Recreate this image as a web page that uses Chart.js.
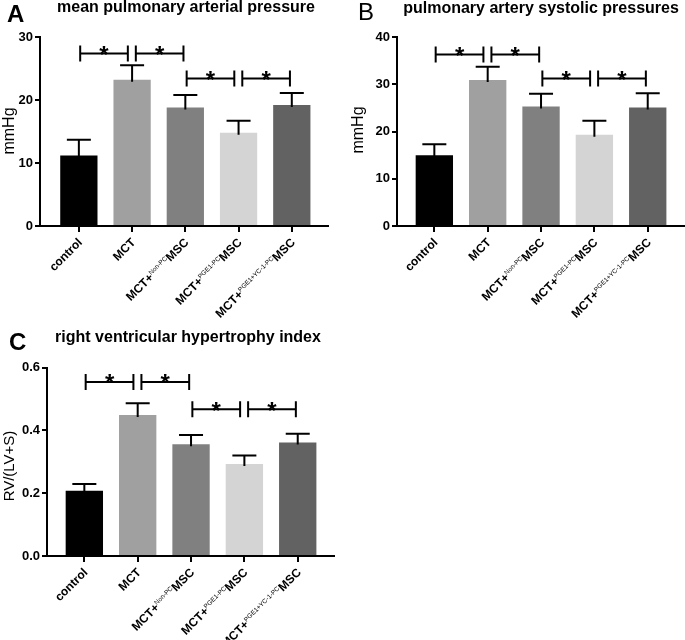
<!DOCTYPE html>
<html><head><meta charset="utf-8">
<script src="https://cdn.jsdelivr.net/npm/chart.js@4/dist/chart.umd.min.js"></script>
<style>
html,body{margin:0;padding:0;background:#fff;}
#wrap{position:relative;width:685px;height:640px;overflow:hidden;}
.p{position:absolute;}
canvas{display:block;}
</style></head><body>
<div id="wrap">
<div class="p" style="left:0;top:0;"><canvas id="cA" width="340" height="320"></canvas></div>
<div class="p" style="left:340px;top:0;"><canvas id="cB" width="345" height="320"></canvas></div>
<div class="p" style="left:0;top:320px;"><canvas id="cC" width="345" height="320"></canvas></div>
</div>
<script>
// ---- data ----
const groupMain = ['control', 'MCT', 'MCT+', 'MCT+', 'MCT+'];
const groupSup  = ['', '', 'Non-PC', 'PGE1-PC', 'PGE1+YC-1-PC'];
const groupTail = ['', '', 'MSC', 'MSC', 'MSC'];
const barColors = ['#000000', '#a0a0a0', '#808080', '#d4d4d4', '#626262'];

const mpapMean = [11.2, 23.2, 18.8, 14.8, 19.2];
const mpapSem  = [2.5, 2.3, 2.0, 1.9, 1.9];
const mpapTicks = [0, 10, 20, 30];

const paspMean = [15.0, 30.9, 25.3, 19.3, 25.1];
const paspSem  = [2.3, 2.8, 2.7, 3.0, 3.0];
const paspTicks = [0, 10, 20, 30, 40];

const rvhiMean = [0.208, 0.449, 0.356, 0.293, 0.361];
const rvhiSem  = [0.021, 0.037, 0.029, 0.027, 0.028];
const rvhiTicks = [0.0, 0.2, 0.4, 0.6];

const sigPairs = [[0, 1], [1, 2], [2, 3], [3, 4]];
const mpapSigY = [27.4, 27.4, 23.4, 23.4];
const paspSigY = [36.3, 36.3, 31.2, 31.2];
const rvhiSigY = [0.554, 0.554, 0.467, 0.467];

const FONT = '"Liberation Sans", Arial, Helvetica, sans-serif';

function drawXLabel(ctx, x, y, main, sup, tail) {
  ctx.save();
  ctx.translate(x, y);
  ctx.rotate(-Math.PI / 4);
  const fMain = 'bold 12px ' + FONT;
  const fSup = '6.5px ' + FONT;
  ctx.font = fMain;
  const w1 = ctx.measureText(main).width;
  const w3 = tail ? ctx.measureText(tail).width : 0;
  ctx.font = fSup;
  const w2 = sup ? ctx.measureText(sup).width : 0;
  let cx = -(w1 + w2 + w3);
  ctx.textAlign = 'left';
  ctx.textBaseline = 'alphabetic';
  ctx.fillStyle = '#000';
  ctx.font = fMain; ctx.fillText(main, cx, 4.3); cx += w1;
  if (sup) { ctx.font = fSup; ctx.fillText(sup, cx, 0); cx += w2; }
  if (tail) { ctx.font = fMain; ctx.fillText(tail, cx, 4.3); }
  ctx.restore();
}

const decorPlugin = {
  id: 'decor',
  afterDatasetsDraw(chart) {
    const o = chart.options.plugins.decor;
    const ctx = chart.ctx;
    const xs = chart.scales.x, ys = chart.scales.y;
    ctx.save();
    ctx.strokeStyle = '#000';
    ctx.lineWidth = 2;
    ctx.lineCap = 'butt';
    // error bars (upper only)
    o.means.forEach((m, i) => {
      const x = xs.getPixelForValue(i);
      const y0 = ys.getPixelForValue(m);
      const y1 = ys.getPixelForValue(m + o.sem[i]);
      ctx.beginPath();
      ctx.moveTo(x, y0 + 2); ctx.lineTo(x, y1);
      ctx.moveTo(x - 12, y1); ctx.lineTo(x + 12, y1);
      ctx.stroke();
    });
    // significance brackets
    sigPairs.forEach((p, k) => {
      const yv = o.sigY[k];
      const shareNext = sigPairs.some((q, j) => j !== k && q[0] === p[1] && o.sigY[j] === yv);
      const sharePrev = sigPairs.some((q, j) => j !== k && q[1] === p[0] && o.sigY[j] === yv);
      const a = p[0] + (sharePrev ? 0.07 : 0.025);
      const b = p[1] - (shareNext ? 0.08 : 0.035);
      const xa = xs.getPixelForValue(a), xb = xs.getPixelForValue(b);
      const y = ys.getPixelForValue(yv);
      ctx.beginPath();
      ctx.moveTo(xa, y - 8); ctx.lineTo(xa, y + 8);
      ctx.moveTo(xb, y - 8); ctx.lineTo(xb, y + 8);
      ctx.moveTo(xa, y); ctx.lineTo(xb, y);
      ctx.stroke();
      ctx.fillStyle = '#000';
      ctx.font = 'bold 24px ' + FONT;
      ctx.textAlign = 'center';
      ctx.textBaseline = 'alphabetic';
      ctx.fillText('*', (xa + xb) / 2, y + 9.5);
    });
    // x labels
    const axisY = chart.chartArea.bottom;
    groupMain.forEach((g, i) => {
      drawXLabel(ctx, xs.getPixelForValue(i) + 1, axisY + 14, g, groupSup[i], groupTail[i]);
    });
    // panel letter, title, y title
    ctx.fillStyle = '#000';
    ctx.textAlign = 'left';
    ctx.textBaseline = 'alphabetic';
    ctx.font = o.letterFont + ' ' + FONT;
    ctx.fillText(o.letter, o.letterX, o.letterY);
    ctx.font = 'bold 16px ' + FONT;
    ctx.textAlign = 'center';
    ctx.fillText(o.title, o.titleX, o.titleY);
    ctx.save();
    ctx.translate(o.yTitleX, o.yTitleY);
    ctx.rotate(-Math.PI / 2);
    ctx.font = o.yTitleFont + ' ' + FONT;
    ctx.textAlign = 'center';
    ctx.fillText(o.yTitle, 0, 0);
    ctx.restore();
    ctx.restore();
  }
};

function makePanel(id, c) {
  return new Chart(document.getElementById(id), {
    type: 'bar',
    data: {
      datasets: [{
        data: c.means.map((v, i) => ({ x: i, y: v })),
        backgroundColor: barColors,
        borderWidth: 0,
        barPercentage: 0.7,
        categoryPercentage: 1.0
      }]
    },
    options: {
      responsive: false,
      animation: false,
      devicePixelRatio: 1,
      layout: { padding: { left: 0, right: c.padRight, top: c.padTop, bottom: 0 } },
      plugins: {
        legend: { display: false },
        tooltip: { enabled: false },
        decor: {
          means: c.means, sem: c.sem, sigY: c.sigY,
          letter: c.letter, letterX: c.letterX, letterY: c.letterY, letterFont: c.letterFont,
          title: c.title, titleX: c.titleX, titleY: c.titleY,
          yTitle: c.yTitle, yTitleX: c.yTitleX, yTitleY: c.yTitleY, yTitleFont: c.yTitleFont
        }
      },
      scales: {
        x: {
          type: 'linear',
          offset: false,
          min: c.xMin, max: c.xMax,
          afterBuildTicks: s => { s.ticks = groupMain.map((_, i) => ({ value: i })); },
          ticks: { display: false },
          grid: { offset: false, drawOnChartArea: false, drawTicks: true, tickLength: 6, color: '#000', lineWidth: 2 },
          border: { color: '#000', width: 2 },
          afterFit: s => { s.height = c.xH; }
        },
        y: {
          min: c.ticks[0], max: c.ticks[c.ticks.length - 1],
          afterBuildTicks: s => { s.ticks = c.ticks.map(v => ({ value: v })); },
          ticks: {
            color: '#000',
            font: { family: FONT, size: 13, weight: 'bold' },
            padding: 2,
            callback: v => c.fmt(v)
          },
          grid: { drawOnChartArea: false, drawTicks: true, tickLength: 5, color: '#000', lineWidth: 2 },
          border: { color: '#000', width: 2 },
          afterFit: s => { s.width = c.yW; }
        }
      }
    },
    plugins: [decorPlugin]
  });
}

makePanel('cA', {
  means: mpapMean, sem: mpapSem, sigY: mpapSigY, ticks: mpapTicks, fmt: v => String(v),
  xMin: -0.73, xMax: 4.68, yW: 40, xH: 94, padRight: 12, padTop: 37,
  letter: 'A', letterX: 7, letterY: 22, letterFont: 'bold 24px',
  title: 'mean pulmonary arterial pressure', titleX: 186, titleY: 12,
  yTitle: 'mmHg', yTitleX: 14, yTitleY: 131, yTitleFont: '16px'
});
makePanel('cB', {
  means: paspMean, sem: paspSem, sigY: paspSigY, ticks: paspTicks, fmt: v => String(v),
  xMin: -0.70, xMax: 4.68, yW: 57, xH: 94, padRight: 1, padTop: 37,
  letter: 'B', letterX: 18, letterY: 20, letterFont: '24px',
  title: 'pulmonary artery systolic pressures', titleX: 201, titleY: 13,
  yTitle: 'mmHg', yTitleX: 23, yTitleY: 130, yTitleFont: '16px'
});
makePanel('cC', {
  means: rvhiMean, sem: rvhiSem, sigY: rvhiSigY, ticks: rvhiTicks, fmt: v => v.toFixed(1),
  xMin: -0.70, xMax: 4.68, yW: 47, xH: 84, padRight: 11, padTop: 47.5,
  letter: 'C', letterX: 9, letterY: 30, letterFont: 'bold 24px',
  title: 'right ventricular hypertrophy index', titleX: 188, titleY: 22,
  yTitle: 'RV/(LV+S)', yTitleX: 14, yTitleY: 146, yTitleFont: '15px'
});
</script>
</body></html>
